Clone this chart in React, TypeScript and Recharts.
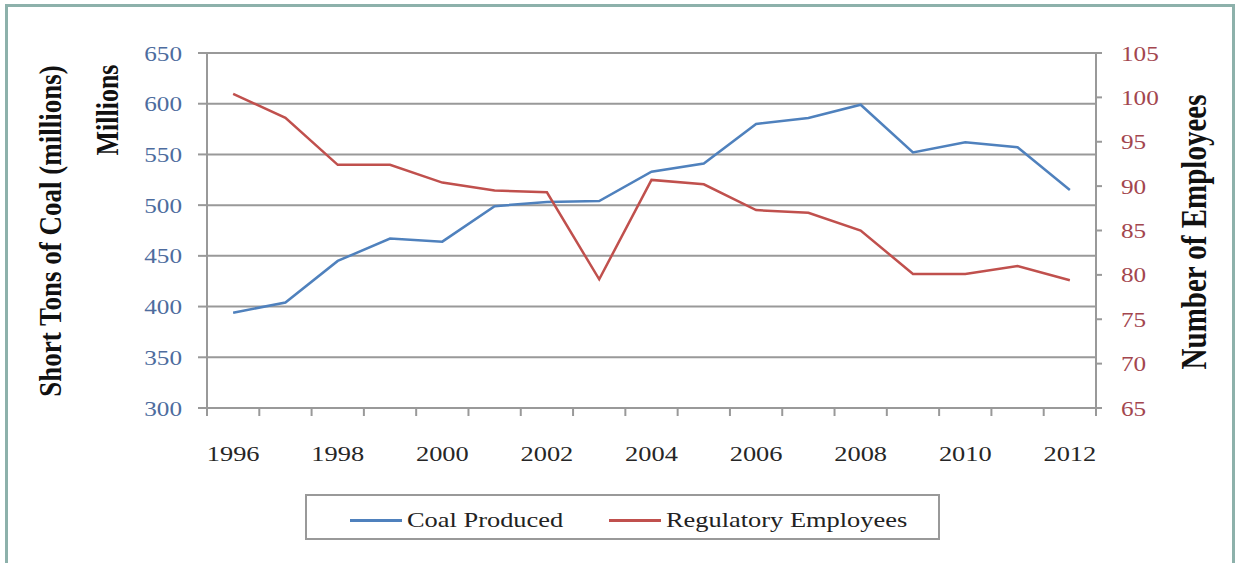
import { LineChart, Line, XAxis, YAxis, CartesianGrid, Legend } from 'recharts';

const years = [1996, 1997, 1998, 1999, 2000, 2001, 2002, 2003, 2004, 2005, 2006, 2007, 2008, 2009, 2010, 2011, 2012];
const coalProduced = [394, 404, 445, 467, 464, 499, 503, 504, 533, 541, 580, 586, 599, 552, 562, 557, 515];
const regulatoryEmployees = [100.4, 97.7, 92.4, 92.4, 90.4, 89.5, 89.3, 79.5, 90.7, 90.2, 87.3, 87.0, 85.0, 80.1, 80.1, 81.0, 79.4];
const coalTicks = [300, 350, 400, 450, 500, 550, 600, 650];
const employeeTicks = [65, 70, 75, 80, 85, 90, 95, 100, 105];
const yearLabels = [1996, 1998, 2000, 2002, 2004, 2006, 2008, 2010, 2012];

const data = years.map((year, i) => ({
  year,
  coal: coalProduced[i],
  employees: regulatoryEmployees[i],
}));

// tick marks sit on the category boundaries, labels on every other year
const xTicks = [...years.map((y) => y - 0.5), years[years.length - 1] + 0.5, ...yearLabels].sort((a, b) => a - b);

const FONT = '"Liberation Serif", "Times New Roman", serif';
const STRETCH = 'scale(1.2,1)';
const GRID = '#999999';

const XTick = ({ x, y, payload }: any) => {
  const v = payload.value;
  if (!Number.isInteger(v)) {
    return <line x1={x} y1={y} x2={x} y2={y + 8} stroke={GRID} strokeWidth={2} />;
  }
  return (
    <g transform={`translate(${x},${y + 53}) ${STRETCH}`}>
      <text x={0} y={0} textAnchor="middle" fill="#262626" fontSize={22} fontFamily={FONT}>
        {v}
      </text>
    </g>
  );
};

const LeftTick = ({ x, y, payload }: any) => (
  <g transform={`translate(${x},${y}) ${STRETCH}`}>
    <text x={0} y={0} dy="0.36em" textAnchor="end" fill="#4d6c9e" fontSize={21} fontFamily={FONT}>
      {payload.value}
    </text>
  </g>
);

const RightTick = ({ x, y, payload }: any) => (
  <g transform={`translate(${x},${y}) ${STRETCH}`}>
    <text x={0} y={0} dy="0.36em" textAnchor="start" fill="#a3464e" fontSize={21} fontFamily={FONT}>
      {payload.value}
    </text>
  </g>
);

const LegendBox = ({ payload }: any) => {
  const offsets = [43, 302];
  return (
    <div
      style={{
        position: 'relative',
        width: 635,
        height: 46,
        boxSizing: 'border-box',
        border: `2px solid ${GRID}`,
        background: '#fff',
        fontFamily: FONT,
      }}
    >
      {(payload || []).map((entry: any, i: number) => (
        <div
          key={entry.value}
          style={{ position: 'absolute', left: offsets[i], top: 3, height: 42, display: 'flex', alignItems: 'center' }}
        >
          <span style={{ display: 'inline-block', width: 52, height: 3, background: entry.color }} />
          <span
            style={{
              display: 'inline-block',
              marginLeft: 5,
              fontSize: 22,
              color: '#222',
              whiteSpace: 'nowrap',
              transform: 'scaleX(1.2)',
              transformOrigin: 'left center',
            }}
          >
            {entry.value}
          </span>
        </div>
      ))}
    </div>
  );
};

export default function App() {
  return (
    <div style={{ position: 'absolute', left: 0, top: 0, width: 1240, height: 563, overflow: 'hidden', background: '#fff' }}>
      <div
        style={{
          position: 'absolute',
          left: 5,
          top: 4,
          width: 1230,
          height: 620,
          boxSizing: 'border-box',
          border: '3px solid #8db1ab',
        }}
      />
      <div style={{ position: 'absolute', left: 0, top: 0 }}>
        <LineChart width={1240} height={563} data={data} margin={{ top: 53, right: 0, left: 0, bottom: 49 }}>
          <CartesianGrid vertical={false} stroke={GRID} strokeWidth={2} xAxisId="x" yAxisId="left" />
          <XAxis
            xAxisId="x"
            dataKey="year"
            type="number"
            domain={[1995.5, 2012.5]}
            ticks={xTicks}
            interval={0}
            tick={<XTick />}
            tickLine={false}
            tickSize={0}
            tickMargin={0}
            height={60}
            axisLine={{ stroke: GRID, strokeWidth: 2 }}
          />
          <YAxis
            yAxisId="left"
            width={207}
            domain={[300, 650]}
            ticks={coalTicks}
            interval={0}
            tick={<LeftTick />}
            tickSize={9}
            tickMargin={16}
            tickLine={{ stroke: GRID, strokeWidth: 2 }}
            axisLine={{ stroke: GRID, strokeWidth: 2 }}
          />
          <YAxis
            yAxisId="right"
            orientation="right"
            width={144}
            domain={[65, 105]}
            ticks={employeeTicks}
            interval={0}
            tick={<RightTick />}
            tickSize={6}
            tickMargin={19}
            tickLine={{ stroke: GRID, strokeWidth: 2 }}
            axisLine={{ stroke: GRID, strokeWidth: 2 }}
          />
          <Line
            xAxisId="x"
            yAxisId="left"
            type="linear"
            dataKey="coal"
            name="Coal Produced"
            stroke="#4f81bd"
            strokeWidth={2.5}
            dot={false}
            isAnimationActive={false}
          />
          <Line
            xAxisId="x"
            yAxisId="right"
            type="linear"
            dataKey="employees"
            name="Regulatory Employees"
            stroke="#c0504d"
            strokeWidth={2.5}
            dot={false}
            isAnimationActive={false}
          />
          <Legend
            verticalAlign="bottom"
            content={<LegendBox />}
            wrapperStyle={{ left: 305, top: 494, bottom: 'auto', width: 635, height: 46 }}
          />
          <text
            transform={`translate(61,231) ${STRETCH} rotate(-90)`}
            textAnchor="middle"
            fontSize={27}
            fontWeight="bold"
            fontFamily={FONT}
            fill="#111"
          >
            Short Tons of Coal (millions)
          </text>
          <text
            transform={`translate(118,110) ${STRETCH} rotate(-90)`}
            textAnchor="middle"
            fontSize={26}
            fontWeight="bold"
            fontFamily={FONT}
            fill="#111"
          >
            Millions
          </text>
          <text
            transform={`translate(1206,232) ${STRETCH} rotate(-90)`}
            textAnchor="middle"
            fontSize={29}
            fontWeight="bold"
            fontFamily={FONT}
            fill="#111"
          >
            Number of Employees
          </text>
        </LineChart>
      </div>
    </div>
  );
}
